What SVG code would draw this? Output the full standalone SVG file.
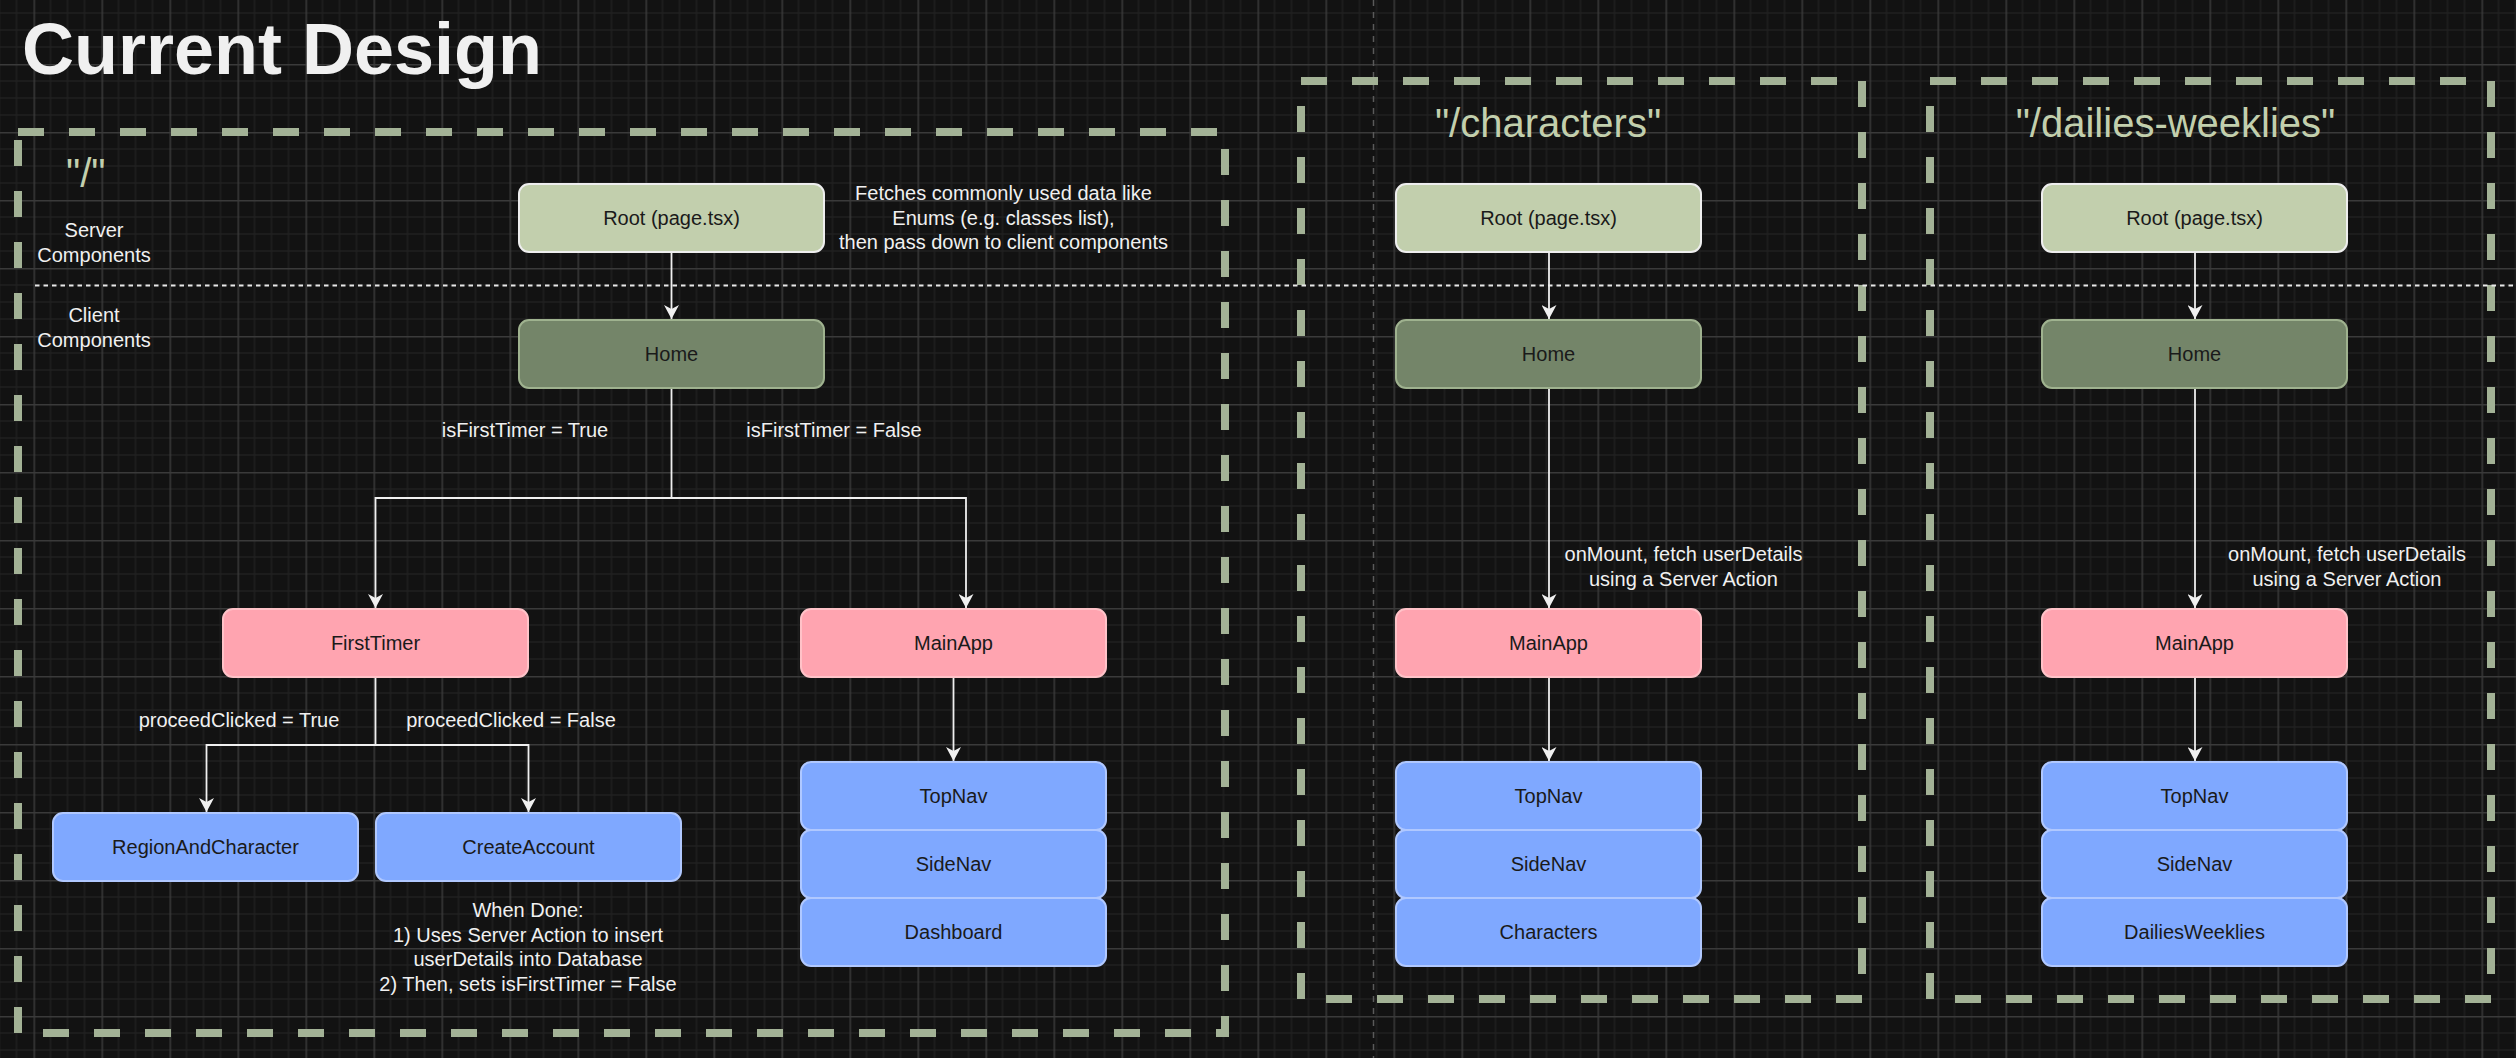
<svg xmlns="http://www.w3.org/2000/svg" width="2516" height="1058" viewBox="0 0 2516 1058">
<defs>
<pattern id="grid" patternUnits="userSpaceOnUse" x="33.5" y="-4" width="68" height="68">
<path d="M17,0V68M34,0V68M51,0V68M0,17H68M0,34H68M0,51H68" stroke="#1f1f1f" stroke-width="1.5" fill="none"/>
<path d="M0.75,0V68M0,0.75H68" stroke="#3a3a3a" stroke-width="1.5" fill="none"/>
</pattern>
<marker id="arr" markerUnits="userSpaceOnUse" viewBox="0 0 14 15" markerWidth="14" markerHeight="15" refX="14" refY="7.5" orient="auto">
<path d="M0,0 L14,7.5 L0,15 L4,7.5 Z" fill="#f0f0f0"/>
</marker>
</defs>
<style>
text{font-family:"Liberation Sans",Arial,Helvetica,sans-serif;}
.t{font-size:20px;fill:#f0f0f0;text-anchor:middle;}
.n{font-size:20px;fill:#1a1a1a;text-anchor:middle;}
.route{font-size:40px;fill:#c2cfad;}
.box{fill:none;stroke:#a3b296;stroke-width:8;stroke-dasharray:26 25;}
.root{fill:#c2cfad;stroke:#eeeeee;stroke-width:2;}
.home{fill:#748569;stroke:#9fb28f;stroke-width:2;}
.pink{fill:#ffa4b0;stroke:#ffc2c8;stroke-width:2;}
.blue{fill:#7fa8ff;stroke:#b0c8ff;stroke-width:2;}
.c{fill:none;stroke:#f0f0f0;stroke-width:1.8;marker-end:url(#arr);}
.c2{fill:none;stroke:#f0f0f0;stroke-width:1.8;}
</style>
<rect width="2516" height="1058" fill="#121212"/>
<rect width="2516" height="1058" fill="url(#grid)"/>
<line x1="1373.5" y1="0" x2="1373.5" y2="1058" stroke="#5a5a5a" stroke-width="1.5" stroke-dasharray="6 6"/>

<text x="22" y="74" font-size="72" font-weight="bold" fill="#f0f0f0">Current Design</text>

<g id="route-root-box">
<rect class="box" x="18" y="132" width="1207" height="901"/>
<text class="route" x="66" y="187">"/"</text>
</g>
<g id="route-characters-box">
<rect class="box" x="1301" y="81" width="561" height="918"/>
<text class="route" x="1548" y="137" text-anchor="middle">"/characters"</text>
</g>
<g id="route-dailies-box">
<rect class="box" x="1930" y="81" width="561" height="918"/>
<text class="route" x="2175.5" y="137" text-anchor="middle">"/dailies-weeklies"</text>
</g>

<line x1="35" y1="285.5" x2="2516" y2="285.5" stroke="#e8e8e8" stroke-width="2" stroke-dasharray="4.5 4"/>

<g id="labels">
<text class="t" x="94" y="237">Server</text>
<text class="t" x="94" y="262">Components</text>
<text class="t" x="94" y="322">Client</text>
<text class="t" x="94" y="347">Components</text>
<text class="t" x="1003.5" y="200">Fetches commonly used data like</text>
<text class="t" x="1003.5" y="224.5">Enums (e.g. classes list),</text>
<text class="t" x="1003.5" y="249">then pass down to client components</text>
<text class="t" x="525" y="437">isFirstTimer = True</text>
<text class="t" x="834" y="437">isFirstTimer = False</text>
<text class="t" x="239" y="727">proceedClicked = True</text>
<text class="t" x="511" y="727">proceedClicked = False</text>
<text class="t" x="528" y="917">When Done:</text>
<text class="t" x="528" y="941.5">1) Uses Server Action to insert</text>
<text class="t" x="528" y="966">userDetails into Database</text>
<text class="t" x="528" y="990.5">2) Then, sets isFirstTimer = False</text>
<text class="t" x="1683.5" y="561">onMount, fetch userDetails</text>
<text class="t" x="1683.5" y="585.5">using a Server Action</text>
<text class="t" x="2347" y="561">onMount, fetch userDetails</text>
<text class="t" x="2347" y="585.5">using a Server Action</text>
</g>

<g id="connectors">
<path class="c" d="M671.5,252 V319"/>
<path class="c" d="M671.5,388 V498 H375.5 V608"/>
<path class="c" d="M671.5,498 H966 V608"/>
<path class="c" d="M375.5,677 V745 H206.5 V812"/>
<path class="c" d="M375.5,745 H528.5 V812"/>
<path class="c" d="M953.5,677 V761"/>
<path class="c" d="M1549,252 V319"/>
<path class="c" d="M1549,388 V608"/>
<path class="c" d="M1549,677 V761"/>
<path class="c" d="M2195,252 V319"/>
<path class="c" d="M2195,388 V608"/>
<path class="c" d="M2195,677 V761"/>
</g>

<g id="root-main"><rect class="root" x="519" y="184" width="305" height="68" rx="10"/><text class="n" x="671.5" y="225">Root (page.tsx)</text></g>
<g id="home-main"><rect class="home" x="519" y="320" width="305" height="68" rx="10"/><text class="n" x="671.5" y="361">Home</text></g>
<g id="firsttimer"><rect class="pink" x="223" y="609" width="305" height="68" rx="10"/><text class="n" x="375.5" y="650">FirstTimer</text></g>
<g id="mainapp-main"><rect class="pink" x="801" y="609" width="305" height="68" rx="10"/><text class="n" x="953.5" y="650">MainApp</text></g>
<g id="regionandcharacter"><rect class="blue" x="53" y="813" width="305" height="68" rx="10"/><text class="n" x="205.5" y="854">RegionAndCharacter</text></g>
<g id="createaccount"><rect class="blue" x="376" y="813" width="305" height="68" rx="10"/><text class="n" x="528.5" y="854">CreateAccount</text></g>
<g id="topnav-main"><rect class="blue" x="801" y="762" width="305" height="68" rx="10"/><text class="n" x="953.5" y="803">TopNav</text></g>
<g id="sidenav-main"><rect class="blue" x="801" y="830" width="305" height="68" rx="10"/><text class="n" x="953.5" y="871">SideNav</text></g>
<g id="dashboard"><rect class="blue" x="801" y="898" width="305" height="68" rx="10"/><text class="n" x="953.5" y="939">Dashboard</text></g>

<g id="root-characters"><rect class="root" x="1396" y="184" width="305" height="68" rx="10"/><text class="n" x="1548.5" y="225">Root (page.tsx)</text></g>
<g id="home-characters"><rect class="home" x="1396" y="320" width="305" height="68" rx="10"/><text class="n" x="1548.5" y="361">Home</text></g>
<g id="mainapp-characters"><rect class="pink" x="1396" y="609" width="305" height="68" rx="10"/><text class="n" x="1548.5" y="650">MainApp</text></g>
<g id="topnav-characters"><rect class="blue" x="1396" y="762" width="305" height="68" rx="10"/><text class="n" x="1548.5" y="803">TopNav</text></g>
<g id="sidenav-characters"><rect class="blue" x="1396" y="830" width="305" height="68" rx="10"/><text class="n" x="1548.5" y="871">SideNav</text></g>
<g id="characters"><rect class="blue" x="1396" y="898" width="305" height="68" rx="10"/><text class="n" x="1548.5" y="939">Characters</text></g>

<g id="root-dailies"><rect class="root" x="2042" y="184" width="305" height="68" rx="10"/><text class="n" x="2194.5" y="225">Root (page.tsx)</text></g>
<g id="home-dailies"><rect class="home" x="2042" y="320" width="305" height="68" rx="10"/><text class="n" x="2194.5" y="361">Home</text></g>
<g id="mainapp-dailies"><rect class="pink" x="2042" y="609" width="305" height="68" rx="10"/><text class="n" x="2194.5" y="650">MainApp</text></g>
<g id="topnav-dailies"><rect class="blue" x="2042" y="762" width="305" height="68" rx="10"/><text class="n" x="2194.5" y="803">TopNav</text></g>
<g id="sidenav-dailies"><rect class="blue" x="2042" y="830" width="305" height="68" rx="10"/><text class="n" x="2194.5" y="871">SideNav</text></g>
<g id="dailiesweeklies"><rect class="blue" x="2042" y="898" width="305" height="68" rx="10"/><text class="n" x="2194.5" y="939">DailiesWeeklies</text></g>
</svg>
